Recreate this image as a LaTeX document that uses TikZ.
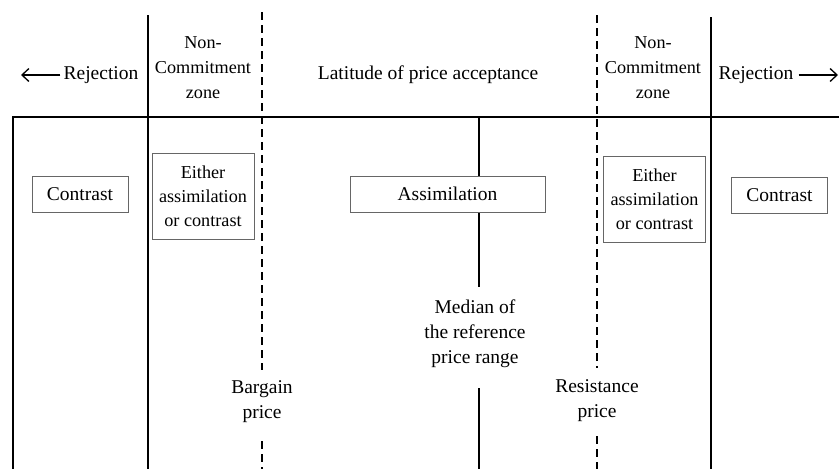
\documentclass[tikz,border=0pt]{standalone}
\usepackage{fontspec}
\setmainfont{Liberation Serif}
\usepackage{tikz}
\usetikzlibrary{arrows.meta}

\tikzset{
  lbl/.style={align=center, inner sep=0pt, font=\fontsize{19.5}{25}\selectfont},
  smalllbl/.style={lbl, font=\fontsize{18.2}{25}\selectfont},
  tagbox/.style={lbl, draw=black!60, line width=1pt},
  rule/.style={line width=1.6pt},
  dashrule/.style={line width=1.6pt, dash pattern=on 8pt off 5pt},
  rejarrow/.style={line width=1.3pt, -{Straight Barb[length=7pt,width=13pt]}},
}

\begin{document}
\begin{tikzpicture}[x=1pt, y=-1pt]
            \useasboundingbox (0,0) rectangle (839,469);
            % frame
            \coordinate (fbl) at (13,469);
            \coordinate (ftl) at (13,117);
            \coordinate (ftr) at (839,117);
            \draw[line width=2.2pt] (fbl) -- (ftl) -- (ftr);

            % header
            \node[lbl] (rejL) at (101,75) {Rejection};
            \node[smalllbl] (ncL) at (203,68) {Non-\\Commitment\\zone};
            \node[lbl] (lat) at (428,75) {Latitude of price acceptance};
            \node[smalllbl] (ncR) at (653,68) {Non-\\Commitment\\zone};
            \node[lbl] (rejR) at (756,75) {Rejection};
            \coordinate (arL) at (21,75);
            \coordinate (arR) at (838,75);
            \draw[rejarrow] ([xshift=-3pt]rejL.west) -- (arL);
            \draw[rejarrow] ([xshift=5pt]rejR.east) -- (arR);

            % solid zone borders
            \foreach \x/\t in {148/15, 711/17} {
                \draw[rule] (\x,\t) -- (\x,469);
            }

            % bargain and resistance prices
            \node[lbl] (barg) at (262,402) {Bargain\\price};
            \node[lbl] (resi) at (597,401) {Resistance\\price};
            \coordinate (bTop) at (262,12);
            \coordinate (bA) at (262,370);
            \coordinate (bB) at (262,441);
            \coordinate (bBot) at (262,469);
            \coordinate (rTop) at (597,15);
            \coordinate (rA) at (597,368);
            \coordinate (rB) at (597,436);
            \coordinate (rBot) at (597,469);
            \draw[dashrule] (bTop) -- (bA);
            \draw[dashrule] (bB) -- (bBot);
            \draw[dashrule] (rTop) -- (rA);
            \draw[dashrule] (rB) -- (rBot);

            % median
            \node[lbl] (med) at (475,334) {Median of\\the reference\\price range};
            \coordinate (mTop) at (479,117);
            \coordinate (mA) at (479,287);
            \coordinate (mB) at (479,388);
            \coordinate (mBot) at (479,469);
            \draw[rule] (mTop) -- (mA);
            \draw[rule] (mB) -- (mBot);

            % reactions
            \node[tagbox, fill=white, minimum width=195pt, minimum height=36pt] (assim) at (447.5,194) {Assimilation};
            \node[tagbox, minimum width=96pt, minimum height=36pt] (conL) at (80,194) {Contrast};
            \node[tagbox, minimum width=96pt, minimum height=36pt] (conR) at (779.5,195) {Contrast};
            \node[tagbox, smalllbl, font=\fontsize{18.2}{24}\selectfont, minimum width=102pt, minimum height=86pt] (eitL) at (203,196) {Either\\assimilation\\or contrast};
            \node[tagbox, smalllbl, font=\fontsize{18.2}{24}\selectfont, minimum width=102pt, minimum height=86pt] (eitR) at (654.5,199.5) {Either\\assimilation\\or contrast};
        \end{tikzpicture}
\end{document}
